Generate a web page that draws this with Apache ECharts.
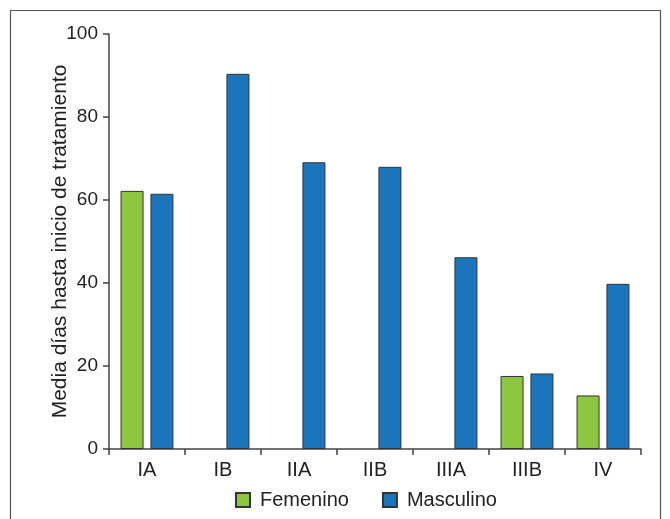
<!DOCTYPE html>
<html><head><meta charset="utf-8">
<script src="https://cdn.jsdelivr.net/npm/echarts@6/dist/echarts.min.js"></script>
<style>html,body{margin:0;padding:0;background:#fff}#c{width:670px;height:519px}</style>
</head><body><div id="c"></div>
<script>
const categories = ['IA','IB','IIA','IIB','IIIA','IIIB','IV'];
const femenino = [62.2, null, null, null, null, 17.6, 12.9];
const masculino = [61.5, 90.4, 69.1, 68.0, 46.2, 18.2, 39.8];
const yTicks = [0, 20, 40, 60, 80, 100];

const font = 'Liberation Sans, Arial, Helvetica, sans-serif';
const chart = echarts.init(document.getElementById('c'), null, {renderer: 'canvas'});
chart.setOption({
  animation: false,
  backgroundColor: '#fff',
  graphic: [{
    type: 'rect', shape: {x: 10.5, y: 10.5, width: 650, height: 520},
    style: {fill: 'none', stroke: '#555', lineWidth: 1.2}, silent: true
  }],
  grid: {left: 109, right: 29, top: 34, bottom: 70},
  legend: {
    left: 230, top: 485, itemWidth: 14, itemHeight: 14, itemGap: 33, icon: 'rect',
    textStyle: {fontFamily: font, fontSize: 20, color: '#222', padding: [0, 0, 0, 5]},
    data: ['Femenino', 'Masculino']
  },
  xAxis: {
    type: 'category', data: categories,
    axisLine: {lineStyle: {color: '#444', width: 1.5}},
    axisTick: {show: true, length: 6, lineStyle: {color: '#444', width: 1.5}},
    axisLabel: {fontFamily: font, fontSize: 20, color: '#222', margin: 11}
  },
  yAxis: {
    type: 'value', min: yTicks[0], max: yTicks[yTicks.length - 1], interval: 20,
    name: 'Media días hasta inicio de tratamiento',
    nameLocation: 'middle', nameGap: 38, nameMoveOverlap: false,
    nameTextStyle: {fontFamily: font, fontSize: 21, color: '#222'},
    axisLine: {show: true, lineStyle: {color: '#444', width: 1.5}},
    axisTick: {show: true, length: 6, lineStyle: {color: '#444', width: 1.5}},
    axisLabel: {fontFamily: font, fontSize: 19, color: '#222', margin: 11},
    splitLine: {show: false}
  },
  series: [
    {name: 'Femenino', type: 'bar', data: femenino, barWidth: 23, barGap: '30%',
     itemStyle: {color: '#8DC63F', borderColor: '#333', borderWidth: 1}},
    {name: 'Masculino', type: 'bar', data: masculino, barWidth: 23, barGap: '30%',
     itemStyle: {color: '#1B75BC', borderColor: '#333', borderWidth: 1}}
  ]
});
</script></body></html>
